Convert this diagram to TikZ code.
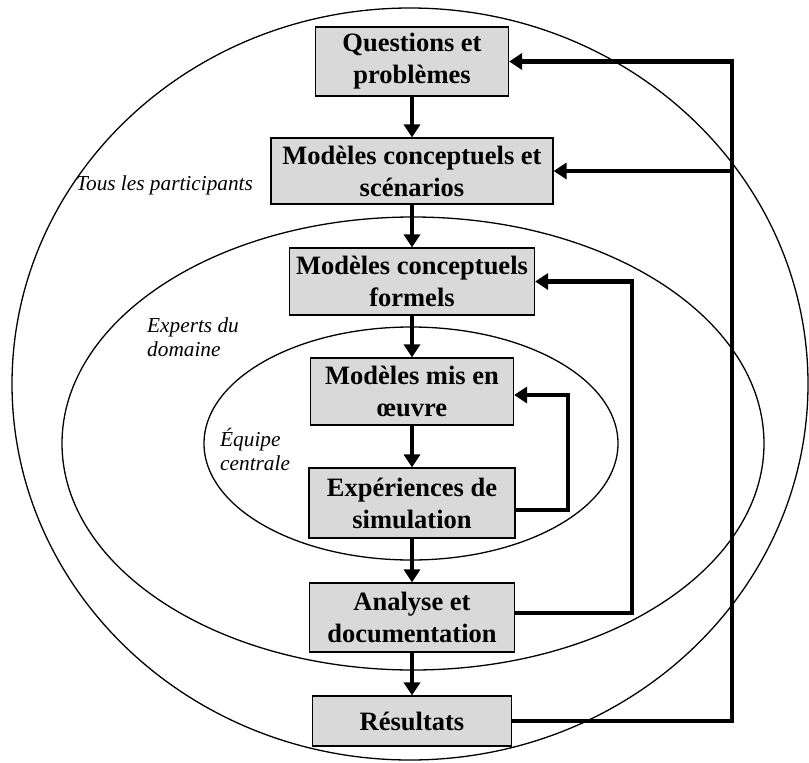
\documentclass[tikz,border=0pt]{standalone}
\usepackage{fontspec}
\setmainfont{Liberation Serif}
\usetikzlibrary{arrows.meta}
\definecolor{kastengrau}{RGB}{217,217,217}

\begin{document}
\begin{tikzpicture}[x=1pt,y=-1pt,
    kasten/.style={draw=black, line width=1.2pt, fill=kastengrau, align=center,
      inner sep=2pt, font=\fontsize{26.5}{32}\selectfont\bfseries},
    pfeil/.style={line width=4.5pt, line join=miter, -{Triangle[length=13pt,width=16pt]}},
    kreis/.style={line width=1.3pt},
    gruppe/.style={anchor=west, align=left, inner sep=0pt, font=\fontsize{21.3}{24}\selectfont\itshape}]
    % Rahmen der Zeichnung
    \useasboundingbox (0,0) rectangle (809,763);

    % Die drei Ellipsen (Beteiligte)
    \draw[kreis] (410,384) ellipse [x radius=398, y radius=376];
    \draw[kreis] (413,443.5) ellipse [x radius=351, y radius=226.5];
    \draw[kreis] (411,443.5) ellipse [x radius=207, y radius=116.5];

    % Beschriftung der Ellipsen
    \node[gruppe] (tous) at (76,185) {Tous les participants};
    \node[gruppe] (experts) at (147,337) {Experts du\\domaine};
    \node[gruppe] (equipe) at (220,449) {Équipe\\centrale};

    % Kästen in der Mitte
    \node[kasten, minimum width=193pt, minimum height=69pt] (q) at (412,61.5) {Questions et\\problèmes};
    \node[kasten, minimum width=282pt, minimum height=66pt] (mcs) at (412,171) {Modèles conceptuels et\\scénarios};
    \node[kasten, minimum width=245pt, minimum height=67pt] (mcf) at (412,281.5) {Modèles conceptuels\\formels};
    \node[kasten, minimum width=203pt, minimum height=67pt] (mmo) at (412,391.5) {Modèles mis en\\œuvre};
    \node[kasten, minimum width=206pt, minimum height=70pt] (exp) at (412,503) {Expériences de\\simulation};
    \node[kasten, minimum width=205pt, minimum height=69pt] (ana) at (412,617.5) {Analyse et\\documentation};
    \node[kasten, minimum width=199pt, minimum height=50pt] (res) at (412,721) {Résultats};

    % Pfeile nach unten
    \draw[pfeil] (q) -- (mcs);
    \draw[pfeil] (mcs) -- (mcf);
    \draw[pfeil] (mcf) -- (mmo);
    \draw[pfeil] (mmo) -- (exp);
    \draw[pfeil] (exp) -- (ana);
    \draw[pfeil] (ana) -- (res);

    % Senkrechte der Rückführungen
    \coordinate (innen) at (568,0);
    \coordinate (mitte) at (632,0);
    \coordinate (rechts) at (732,0);

    % Rückführungen
    \draw[pfeil] ([yshift=-7pt]exp.east) -- ([yshift=-7pt]exp.east -| innen) |- ([yshift=-3.5pt]mmo.east);
    \draw[pfeil] ([yshift=4.5pt]ana.east) -- ([yshift=4.5pt]ana.east -| mitte) |- (mcf.east);
    \draw[pfeil] (res.east) -- (res.east -| rechts) |- (q.east);
    \draw[pfeil] (mcs.east -| rechts) -- (mcs.east);

\end{tikzpicture}
\end{document}
